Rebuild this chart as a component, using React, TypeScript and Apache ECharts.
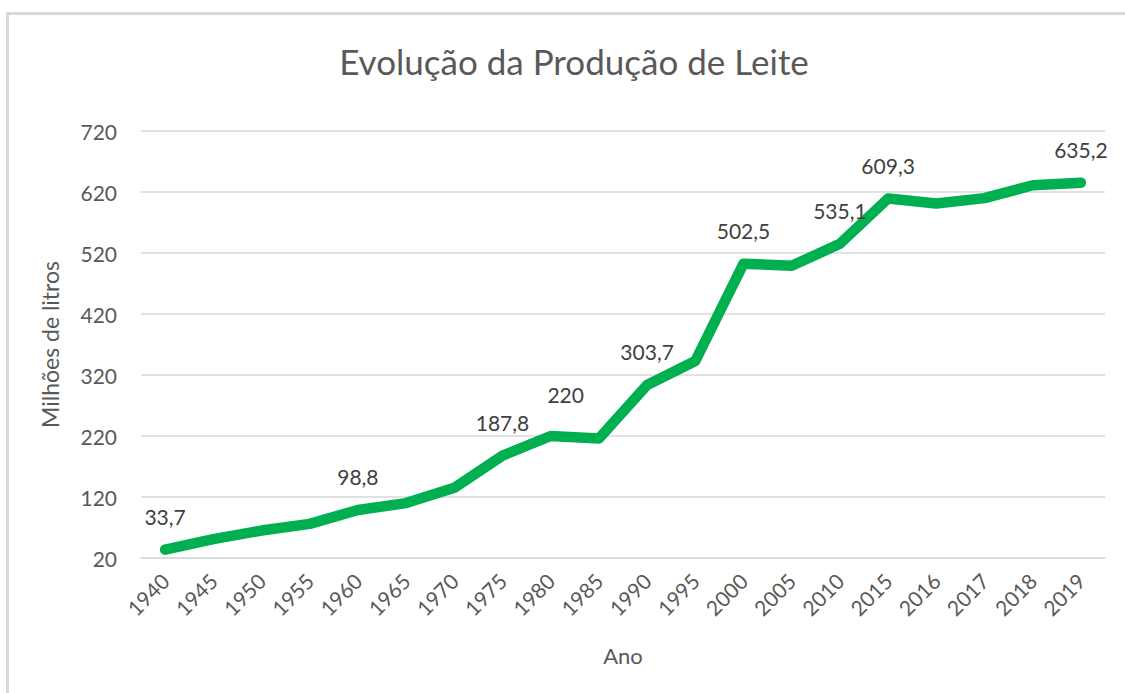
import React, { useEffect, useRef } from "react";
import * as echarts from "echarts";

const years = ["1940", "1945", "1950", "1955", "1960", "1965", "1970", "1975", "1980", "1985", "1990", "1995", "2000", "2005", "2010", "2015", "2016", "2017", "2018", "2019"];
const production = [33.7, 51, 65, 76, 98.8, 110, 135, 187.8, 220, 216, 303.7, 343, 502.5, 499, 535.1, 609.3, 601, 610, 631, 635.2];
const labeledYears = ["1940", "1960", "1975", "1980", "1990", "2000", "2010", "2015", "2019"];
const yTicks = { min: 20, max: 720, interval: 100 };

const FONT = "Lato, 'Open Sans', sans-serif";

export default function App() {
  const ref = useRef<HTMLDivElement>(null);

  useEffect(() => {
    if (!ref.current) return;
    const chart = echarts.init(ref.current, null, { renderer: "svg" });
    const data = production.map((v, i) => {
      const show = labeledYears.includes(years[i]);
      return {
        value: v,
        label: {
          show,
          offset: years[i] === "1980" ? [15, -9] : [0, 0],
        },
      };
    });
    chart.setOption({
      animation: false,
      backgroundColor: "#ffffff",
      textStyle: { fontFamily: FONT },
      title: {
        text: "Evolução da Produção de Leite",
        left: 569,
        textAlign: "center",
        top: 38,
        textStyle: { fontFamily: FONT, fontSize: 35, fontWeight: "normal", color: "#595959" },
      },
      graphic: [
        { type: "line", shape: { x1: 6, y1: 13.5, x2: 1125, y2: 13.5 }, style: { stroke: "#D9D9D9", lineWidth: 3 } },
        { type: "line", shape: { x1: 7.5, y1: 12, x2: 7.5, y2: 693 }, style: { stroke: "#D9D9D9", lineWidth: 3 } },
      ],
      grid: { left: 141, right: 20, top: 131, bottom: 135 },
      xAxis: {
        type: "category",
        data: years,
        boundaryGap: true,
        name: "Ano",
        nameLocation: "middle",
        nameGap: 86,
        nameTextStyle: { fontFamily: FONT, fontSize: 22, color: "#595959" },
        axisLine: { show: true, lineStyle: { color: "#D9D9D9", width: 1.5 } },
        axisTick: { show: false },
        axisLabel: { rotate: 45, margin: 19, fontFamily: FONT, fontSize: 21, color: "#595959", interval: 0 },
      },
      yAxis: {
        type: "value",
        min: yTicks.min,
        max: yTicks.max,
        interval: yTicks.interval,
        name: "Milhões de litros",
        nameLocation: "middle",
        nameGap: 80,
        nameTextStyle: { fontFamily: FONT, fontSize: 23, color: "#595959" },
        axisLine: { show: false },
        axisTick: { show: false },
        axisLabel: { margin: 24, fontFamily: FONT, fontSize: 21, color: "#595959" },
        splitLine: { lineStyle: { color: "#D9D9D9", width: 1.5 } },
      },
      series: [
        {
          type: "line",
          data,
          symbol: "circle",
          symbolSize: 1,
          showSymbol: true,
          itemStyle: { color: "rgba(0,0,0,0)" },
          lineStyle: { color: "#00B050", width: 10.5, cap: "round", join: "round" },
          label: {
            position: "top",
            distance: 22,
            fontFamily: FONT,
            fontSize: 21,
            color: "#404040",
            formatter: (p: any) => String(p.value).replace(".", ","),
          },
          emphasis: { disabled: true },
        },
      ],
    });
    return () => chart.dispose();
  }, []);

  return (
    <div
      ref={ref}
      style={{ position: "fixed", left: 0, top: 0, width: 1125, height: 693, background: "#fff" }}
    />
  );
}
